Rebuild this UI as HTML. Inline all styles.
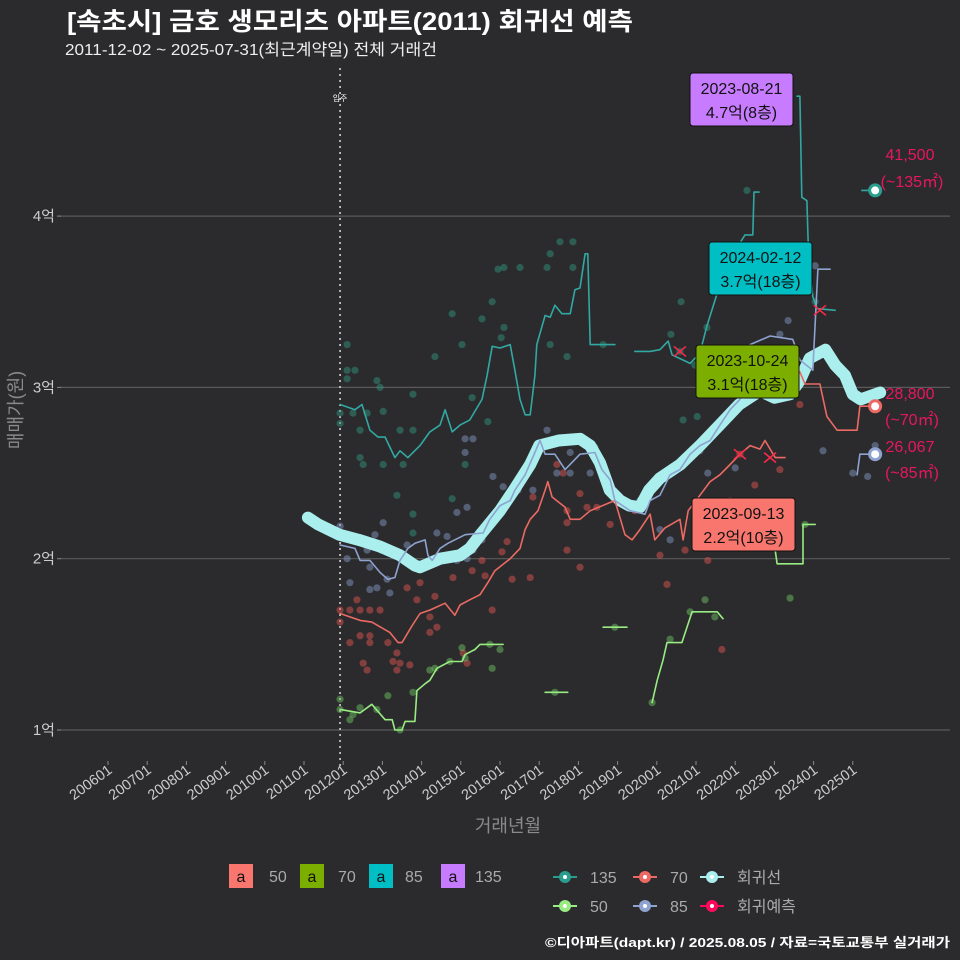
<!DOCTYPE html>
<html><head><meta charset="utf-8">
<style>
html,body{margin:0;padding:0;background:#2b2b2d;}
svg{display:block;font-family:"Liberation Sans","Noto Sans CJK KR",sans-serif;}
</style></head>
<body>
<svg id="chart" width="960" height="960" viewBox="0 0 960 960" xmlns="http://www.w3.org/2000/svg">
<rect x="0" y="0" width="960" height="960" fill="#2b2b2d"/>
<text x="67" y="30" fill="#ffffff" font-size="25" font-weight="bold" textLength="566" lengthAdjust="spacingAndGlyphs">[속초시] 금호 생모리츠 아파트(2011) 회귀선 예측</text>
<text x="65" y="55" fill="#eeeeee" font-size="16" textLength="372" lengthAdjust="spacingAndGlyphs">2011-12-02 ~ 2025-07-31(최근계약일) 전체 거래건</text>
<g id="grid"></g>
<g id="yaxis"></g>
<g id="xaxis"></g>
<g id="marks"></g>
<g id="ann"></g>
<text x="0" y="0" transform="translate(22,410) rotate(-90)" text-anchor="middle" fill="#8a8a8a" font-size="18">매매가(원)</text>
<text x="508" y="832" text-anchor="middle" fill="#8a8a8a" font-size="18">거래년월</text>
<g>
<rect x="229" y="864" width="24" height="24" fill="#f8766d"/><text x="241" y="882" text-anchor="middle" font-size="16" fill="#111">a</text><text x="269" y="882" font-size="16" fill="#aaa">50</text>
<rect x="300" y="864" width="24" height="24" fill="#7cae00"/><text x="312" y="882" text-anchor="middle" font-size="16" fill="#111">a</text><text x="338" y="882" font-size="16" fill="#aaa">70</text>
<rect x="369" y="864" width="24" height="24" fill="#00bfc4"/><text x="381" y="882" text-anchor="middle" font-size="16" fill="#111">a</text><text x="405" y="882" font-size="16" fill="#aaa">85</text>
<rect x="441" y="864" width="24" height="24" fill="#c77cff"/><text x="453" y="882" text-anchor="middle" font-size="16" fill="#111">a</text><text x="475" y="882" font-size="16" fill="#aaa">135</text>
</g>
<g id="legend2"></g>
<text x="950" y="947" text-anchor="end" fill="#ffffff" font-size="13" font-weight="bold" textLength="405" lengthAdjust="spacingAndGlyphs">©디아파트(dapt.kr) / 2025.08.05 / 자료=국토교통부 실거래가</text>
</svg>
<script>
// ---- data (t = fractional year, v = price in 억) ----
const yTicks = [1, 2, 3, 4];
const yTickLabels = ["1억", "2억", "3억", "4억"];
const xTickYears = [2006,2007,2008,2009,2010,2011,2012,2013,2014,2015,2016,2017,2018,2019,2020,2021,2022,2023,2024,2025];
const xTickLabels = ["200601","200701","200801","200901","201001","201101","201201","201301","201401","201501","201601","201701","201801","201901","202001","202101","202201","202301","202401","202501"];
const moveInYear = 2011.92;

const regT = [2011.1,2011.36,2011.9,2012.4,2012.95,2013.45,2013.83,2013.96,2014.47,2014.98,2015.23,2015.5,2016.0,2016.38,2016.77,2017.0,2017.5,2018.04,2018.3,2018.55,2018.8,2019.06,2019.3,2019.57,2019.8,2020.08,2020.6,2021.1,2021.6,2022.1,2022.63,2023.0,2023.4,2023.65,2023.9,2024.3,2024.55,2024.8,2025.0,2025.2,2025.7];
const regV = [2.24,2.20,2.14,2.11,2.07,2.02,1.96,1.95,2.00,2.02,2.06,2.14,2.28,2.41,2.55,2.66,2.69,2.70,2.66,2.56,2.40,2.34,2.31,2.30,2.40,2.47,2.55,2.66,2.78,2.90,2.98,2.94,2.96,3.04,3.17,3.22,3.13,3.07,2.96,2.93,2.97];

const s135T = [2011.92,2012.30,2012.48,2012.68,2012.89,2013.07,2013.32,2013.45,2013.65,2013.96,2014.21,2014.47,2014.60,2014.78,2014.98,2015.23,2015.54,2015.67,2015.80,2016.0,2016.26,2016.38,2016.51,2016.64,2016.77,2016.89,2016.94,2017.15,2017.28,2017.40,2017.58,2017.79,2017.91,2018.04,2018.17,2018.24,2018.30,2018.93,null,2019.44,2019.83,2020.08,2020.29,2020.39,2020.85,2021.10,2021.28,2021.54,2021.66,2022.0,2022.25,2022.45,2022.48,2022.61,null,2023.58,2023.65,2023.70,2023.83,2023.86,2023.98,2024.09,2024.55,null,2025.23,2025.57];
const s135V = [2.90,2.87,2.90,2.75,2.71,2.71,2.59,2.63,2.59,2.66,2.74,2.78,2.87,2.74,2.78,2.81,2.93,3.07,3.24,3.23,3.25,3.10,2.93,2.84,2.84,3.07,3.25,3.42,3.41,3.48,3.43,3.43,3.57,3.58,3.78,3.78,3.25,3.25,null,3.21,3.21,3.22,3.27,3.19,3.14,3.20,3.36,3.55,3.66,3.80,3.89,3.89,4.14,4.14,null,4.70,4.70,4.11,4.09,3.86,3.53,3.46,3.45,null,4.15,4.15];

const s70T = [2011.92,2012.43,2012.73,2013.19,2013.40,2013.50,2013.76,2013.96,2014.21,2014.60,2014.85,2014.98,2015.23,2015.49,2015.69,2015.87,2016.26,2016.51,2016.64,2016.77,2016.97,2017.15,2017.22,2017.33,2017.66,2017.79,2018.04,2018.30,2018.93,2019.19,2019.37,2019.57,2019.83,2019.95,2020.21,2020.59,2020.67,2020.80,2021.10,2021.36,2021.61,2021.87,2022.12,2022.38,2022.63,2022.76,2023.02,2023.27,null,2023.65,2023.78,2024.16,2024.34,2024.60,2025.11,2025.18,2025.57];
const s70V = [1.68,1.64,1.63,1.57,1.51,1.51,1.61,1.68,1.70,1.74,1.67,1.73,1.76,1.79,1.86,1.93,2.00,2.06,2.17,2.23,2.28,2.40,2.45,2.36,2.30,2.23,2.23,2.28,2.34,2.14,2.11,2.17,2.26,2.11,2.18,2.23,2.11,2.28,2.37,2.45,2.49,2.55,2.61,2.66,2.64,2.69,2.59,2.59,null,3.09,3.02,3.02,2.83,2.75,2.75,2.89,2.89];

const s85T = [2011.92,2012.30,2012.43,2012.68,2012.94,2013.14,2013.32,2013.45,2013.65,2013.83,2014.09,2014.16,2014.27,2014.47,2014.67,2015.11,2015.57,2015.74,2016.0,2016.26,2016.38,2016.64,2016.89,2017.02,2017.15,2017.40,2017.66,2018.04,2018.42,2018.60,2018.81,2018.93,2019.32,2019.70,2019.83,2020.08,2020.34,2020.59,2020.85,2021.10,2021.36,2021.61,2021.87,2022.12,2022.25,2022.38,2022.89,2023.47,2023.65,2023.98,2024.11,2024.42,null,2025.11,2025.18,2025.57];
const s85V = [2.08,2.06,1.99,1.99,1.92,1.88,1.89,1.99,2.06,2.09,2.11,2.02,1.99,2.06,2.09,2.14,2.15,2.23,2.31,2.34,2.40,2.49,2.62,2.69,2.61,2.61,2.52,2.61,2.62,2.52,2.46,2.34,2.28,2.26,2.34,2.37,2.49,2.52,2.61,2.66,2.69,2.78,2.87,2.93,2.99,3.25,3.30,3.28,3.16,3.10,3.69,3.69,null,2.49,2.61,2.61];

const s50T = [2011.92,2012.43,2012.73,2013.07,2013.25,2013.32,2013.50,2013.58,2013.83,2013.88,2014.09,2014.21,2014.39,2014.72,2015.03,2015.11,2015.36,2015.49,2015.82,2016.08,null,2017.15,2017.73,null,2018.63,2019.24,null,2019.88,2020.01,2020.16,2020.26,2020.64,2020.90,2021.54,2021.69,null,2023.02,2023.07,2023.40,2023.73,2023.73,2024.04];
const s50V = [1.12,1.10,1.15,1.06,1.06,1.00,1.00,1.05,1.05,1.23,1.27,1.29,1.36,1.40,1.40,1.44,1.47,1.50,1.50,1.50,null,1.22,1.22,null,1.60,1.60,null,1.16,1.29,1.41,1.51,1.51,1.69,1.69,1.65,null,2.05,1.97,1.97,1.97,2.20,2.20];

const p135T = [2012.10,2012.10,2012.30,2012.10,2012.86,2012.94,2011.92,2011.92,2012.25,2012.61,2012.43,2013.02,2013.45,2013.78,2012.43,2012.51,2013.02,2013.53,2013.37,2013.78,2013.78,2013.78,2014.34,2014.78,2015.03,2015.11,2015.29,2015.54,2015.80,2015.69,2015.95,2016.10,2016.51,2016.10,2016.03,2017.28,2017.53,2017.86,2017.20,2017.86,2017.28,2017.71,2018.63,2014.78,2020.62,2020.36,2021.28,2022.30,2024.04,2020.59,2020.97,2020.67,2021.03];
const p135V = [3.25,3.10,3.10,3.05,3.04,3.00,2.85,2.79,2.85,2.85,2.75,2.86,2.75,2.75,2.59,2.55,2.55,2.55,2.37,2.26,2.15,2.96,3.18,3.43,3.25,2.55,2.94,3.40,3.50,2.80,3.69,3.70,3.70,3.35,3.29,3.78,3.85,3.85,3.70,3.70,3.25,3.18,3.25,2.35,3.50,3.31,3.35,4.15,3.50,3.21,3.13,2.81,2.83];

const p70T = [2011.92,2011.92,2012.17,2012.43,2012.68,2012.94,2012.35,2012.43,2012.68,2012.17,2012.68,2012.51,2012.61,2013.14,2013.37,2013.27,2013.45,2013.37,2013.70,2013.63,2013.96,2013.88,2014.21,2014.21,2014.39,2014.34,2014.80,2015.29,2015.06,2015.16,2015.54,2015.62,2015.80,2016.05,2016.18,2016.31,2016.77,2016.84,2017.71,2017.71,2017.71,2018.04,2018.04,2018.22,2018.47,2017.45,2017.61,2019.44,2018.81,2020.08,2020.26,2020.72,2021.10,2021.23,2021.87,2022.12,2022.50,2023.14,2023.65,2021.66,2021.30];
const p70V = [1.70,1.63,1.70,1.70,1.70,1.70,1.76,1.55,1.55,1.51,1.51,1.39,1.35,1.51,1.45,1.40,1.39,1.35,1.38,1.83,1.86,1.76,1.66,1.57,1.60,1.78,1.89,1.93,1.45,1.39,1.99,1.90,1.70,2.04,2.10,1.88,1.89,2.36,2.28,2.21,2.05,2.38,1.95,2.30,2.30,2.55,2.50,2.28,2.20,2.02,1.85,2.05,2.08,2.23,2.34,2.61,2.43,2.52,2.90,1.47,1.99];

const p85T = [2011.92,2012.10,2012.17,2012.61,2012.81,2012.68,2012.86,2013.12,2013.19,2012.68,2013.63,2013.02,2014.39,2014.65,2014.90,2015.16,2014.90,2015.16,2015.31,2015.54,2015.82,2015.11,2015.11,2015.31,2016.08,2016.46,2016.84,2017.20,2017.45,2017.79,2018.30,2018.42,2017.79,2019.57,2020.08,2020.34,2021.10,2021.30,2022.0,2022.43,2023.14,2023.35,2024.04,2024.24,2025.0,2025.57,2025.38];
const p85V = [2.19,2.00,1.86,2.05,2.14,1.95,1.83,1.88,1.80,1.82,2.08,2.21,2.15,2.13,2.27,2.30,1.99,2.00,2.05,2.11,2.48,2.62,2.70,2.70,2.42,2.40,2.40,2.75,2.50,2.50,2.50,2.65,2.62,2.34,2.17,2.11,2.63,2.50,2.53,3.02,3.31,3.39,3.71,2.63,2.50,2.66,2.48];

const p50T = [2011.92,2011.92,2012.17,2012.25,2012.43,2012.86,2013.14,2013.78,2014.21,2014.34,2014.72,2015.03,2015.11,2015.74,2015.80,2016.0,2017.40,2018.93,2019.88,2020.34,2020.85,2021.23,2021.48,2023.40,2023.78,2013.45];
const p50V = [1.18,1.12,1.06,1.09,1.13,1.12,1.20,1.22,1.35,1.36,1.40,1.48,1.42,1.50,1.36,1.47,1.22,1.60,1.16,1.53,1.69,1.76,1.66,1.77,2.20,1.00];

const predT = [2020.59,2024.16,2022.12,2022.89];
const predV = [3.21,3.45,2.61,2.59];

const endT = [2025.57,2025.57,2025.57];
const endV = [4.15,2.89,2.61];
const endLabelTop = ["41,500","28,800","26,067"];
const endLabelBot = ["(~135㎡)","(~70㎡)","(~85㎡)"];

// ---- scales ----
const X = t => 108 + (t - 2006) * 39.2;
const Y = v => 730 - (v - 1) * 171.3;
const NS = "http://www.w3.org/2000/svg";
function mk(tag, attrs, parent){
  const e = document.createElementNS(NS, tag);
  for (const k in attrs) e.setAttribute(k, attrs[k]);
  parent.appendChild(e);
  return e;
}
const grid = document.getElementById('grid');
const yaxis = document.getElementById('yaxis');
const xaxis = document.getElementById('xaxis');
const marks = document.getElementById('marks');
const ann = document.getElementById('ann');

yTicks.forEach((v,i)=>{
  const g = mk('line',{x1:60,x2:950,y1:Y(v),y2:Y(v),stroke:'#5a5a5a','stroke-width':1.2},grid);
  
  
  const tk = mk('line',{x1:57,x2:61,y1:Y(v),y2:Y(v),stroke:'#888'},yaxis);
  
  
  const tx = mk('text',{x:55,y:Y(v)+5,'text-anchor':'end','font-size':15,fill:'#cccccc'},yaxis);
  tx.textContent = yTickLabels[i];
  
  
});
xTickYears.forEach((yr,i)=>{
  const x = X(yr);
  const tk = mk('line',{x1:x,x2:x,y1:761,y2:765,stroke:'#888'},xaxis);
  
  
  const tx = mk('text',{x:0,y:0,'text-anchor':'end','font-size':14.5,fill:'#cccccc',transform:`translate(${x+5},${772}) rotate(-36)`},xaxis);
  tx.textContent = xTickLabels[i];
  
  
});
// move-in line
const ml = mk('line',{x1:X(moveInYear),x2:X(moveInYear),y1:68,y2:770,stroke:'#dddddd','stroke-width':1.5,'stroke-dasharray':'2,4'},marks);


const mlt = mk('text',{x:X(moveInYear),y:101,'text-anchor':'middle','font-size':8,fill:'#ffffff'},marks);
mlt.textContent='입주';



function points(T,V,color,name){
  T.forEach((t,i)=>{
    const c = mk('circle',{cx:X(t),cy:Y(V[i]),r:3.6,fill:color,'fill-opacity':0.5},marks);
    
    
  });
}
function line(T,V,color,w,name){
  let d='', pen=false;
  T.forEach((t,i)=>{
    if (t===null || V[i]===null){pen=false;return;}
    d += (pen?'L':'M') + X(t).toFixed(1) + ',' + Y(V[i]).toFixed(1);
    pen=true;
  });
  const p = mk('path',{d:d,fill:'none',stroke:color,'stroke-width':w,'stroke-linejoin':'round','stroke-linecap':'round'},marks);
  
  
}
points(p135T,p135V,'#2f8f7a','point-135');
points(p70T,p70V,'#d9534f','point-70');
points(p85T,p85V,'#7f93bd','point-85');
points(p50T,p50V,'#6cc060','point-50');
line(regT,regV,'#aaeeee',12,'regression-line');
line(s135T,s135V,'#32a8a2',1.6,'line-135');
line(s70T,s70V,'#ec6a63',1.6,'line-70');
line(s85T,s85V,'#8ea3d0',1.6,'line-85');
line(s50T,s50V,'#98ec82',1.6,'line-50');
predT.forEach((t,i)=>{
  const x=X(t), y=Y(predV[i]);
  const p = mk('path',{d:`M${x-6},${y-5}L${x+6},${y+5}M${x-6},${y+5}L${x+6},${y-5}`,stroke:'#ff2a4a','stroke-width':1.5},marks);
  
  
});
const endColors=['#2a9d8f','#ec6a63','#8ea3d0'];
endT.forEach((t,i)=>{
  const c = mk('circle',{cx:X(t),cy:Y(endV[i]),r:5.5,fill:'#ffffff',stroke:endColors[i],'stroke-width':3},marks);
  
  
});
// end labels
const endLabelY = [[160,187],[399,425],[452,478]];
endLabelY.forEach((yy,i)=>{
  const a = mk('text',{x:910,y:yy[0],'text-anchor':'middle','font-size':16,fill:'#e8175d'},ann);
  a.textContent=endLabelTop[i];
  
  
  const b = mk('text',{x:912,y:yy[1],'text-anchor':'middle','font-size':16,fill:'#e8175d'},ann);
  b.textContent=endLabelBot[i];
  
  
});
// max boxes
const boxes=[
  {x:690,y:73,fill:'#c77cff',d:'2023-08-21',p:'4.7억(8층)',n:'max-label-135'},
  {x:709,y:242,fill:'#00bfc4',d:'2024-02-12',p:'3.7억(18층)',n:'max-label-85'},
  {x:696,y:345,fill:'#7cae00',d:'2023-10-24',p:'3.1억(18층)',n:'max-label-70'},
  {x:692,y:498,fill:'#f8766d',d:'2023-09-13',p:'2.2억(10층)',n:'max-label-50'}
];
boxes.forEach(b=>{
  const g = mk('g',{},ann);
  
  
  mk('rect',{x:b.x,y:b.y,width:103,height:53,rx:3,fill:b.fill,stroke:'#111','stroke-width':1},g);
  const t1 = mk('text',{x:b.x+51.5,y:b.y+21,'text-anchor':'middle','font-size':16,fill:'#111'},g);
  t1.textContent=b.d;
  const t2 = mk('text',{x:b.x+51.5,y:b.y+45,'text-anchor':'middle','font-size':16,fill:'#111'},g);
  t2.textContent=b.p;
});
// series legend
const leg2=[
  {x:565,y:877,c:'#2a9d8f',l:'135',n:'legend-line-135'},
  {x:645,y:877,c:'#ec6a63',l:'70',n:'legend-line-70'},
  {x:712,y:877,c:'#aaeeee',l:'회귀선',n:'legend-regression'},
  {x:565,y:906,c:'#98ec82',l:'50',n:'legend-line-50'},
  {x:645,y:906,c:'#8ea3d0',l:'85',n:'legend-line-85'},
  {x:712,y:906,c:'#ff0a5a',l:'회귀예측',n:'legend-prediction'}
];
const lg = document.getElementById('legend2');
leg2.forEach(e=>{
  const g = mk('g',{},lg);
  
  
  mk('line',{x1:e.x-12,x2:e.x+12,y1:e.y,y2:e.y,stroke:e.c,'stroke-width':2},g);
  mk('circle',{cx:e.x,cy:e.y,r:6,fill:e.c},g);
  mk('circle',{cx:e.x,cy:e.y,r:2,fill:'#ffffff'},g);
  const t = mk('text',{x:e.x+25,y:e.y+6,'font-size':16,fill:'#aaaaaa'},g);
  t.textContent=e.l;
});
</script>
</body></html>
